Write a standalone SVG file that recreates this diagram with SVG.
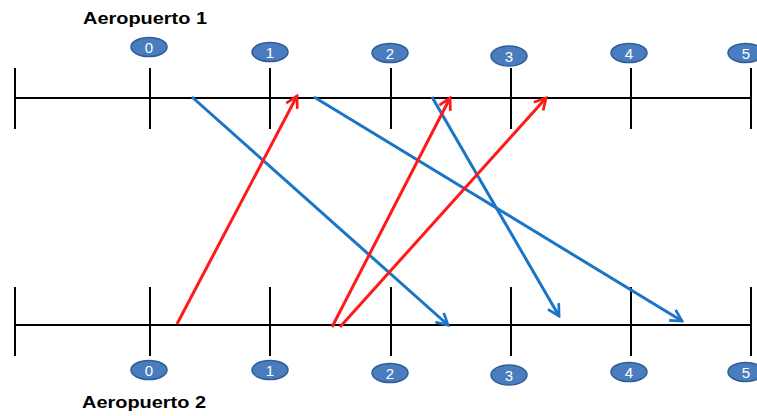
<svg xmlns="http://www.w3.org/2000/svg" width="757" height="416" viewBox="0 0 757 416">
<style>
.axis{stroke:#000;stroke-width:2;fill:none}
.badge ellipse{fill:#4a7dbd;stroke:#2f5d99;stroke-width:1.5}
.badge text{fill:#fff;font-family:"Liberation Sans",Arial,sans-serif;font-size:15px;text-anchor:middle}
.title{font-family:"Liberation Sans",Arial,sans-serif;font-weight:bold;font-size:17px;fill:#000}
.blue{stroke:#1a75c6;stroke-width:3;fill:none;marker-end:url(#ab)}
.red{stroke:#ff1a1a;stroke-width:3;fill:none;marker-end:url(#ar)}
</style>
<defs>
<marker id="ab" viewBox="0 0 12 12" refX="10" refY="6" markerWidth="5" markerHeight="5" markerUnits="strokeWidth" orient="auto">
<path d="M1,1 L10,6 L1,11" fill="none" stroke="#1a75c6" stroke-width="2.2"/>
</marker>
<marker id="ar" viewBox="0 0 12 12" refX="10" refY="6" markerWidth="5" markerHeight="5" markerUnits="strokeWidth" orient="auto">
<path d="M1,1 L10,6 L1,11" fill="none" stroke="#ff1a1a" stroke-width="2.2"/>
</marker>
</defs>
<g id="axis1" class="axis">
<line x1="15" y1="98" x2="752" y2="98"/>
<line x1="15" y1="68" x2="15" y2="129"/>
<line x1="150" y1="68" x2="150" y2="129"/>
<line x1="270" y1="68" x2="270" y2="129"/>
<line x1="391" y1="68" x2="391" y2="129"/>
<line x1="511" y1="68" x2="511" y2="129"/>
<line x1="631" y1="68" x2="631" y2="129"/>
<line x1="751" y1="68" x2="751" y2="129"/>
</g>
<g id="axis2" class="axis">
<line x1="15" y1="325" x2="752" y2="325"/>
<line x1="15" y1="287" x2="15" y2="356"/>
<line x1="150" y1="287" x2="150" y2="356"/>
<line x1="270" y1="287" x2="270" y2="356"/>
<line x1="391" y1="287" x2="391" y2="356"/>
<line x1="511" y1="287" x2="511" y2="356"/>
<line x1="631" y1="287" x2="631" y2="356"/>
<line x1="751" y1="287" x2="751" y2="356"/>
</g>
<text id="label1" class="title" x="83" y="24" textLength="124" lengthAdjust="spacingAndGlyphs">Aeropuerto 1</text>
<text id="label2" class="title" x="82" y="408" textLength="124" lengthAdjust="spacingAndGlyphs">Aeropuerto 2</text>
<g id="t0" class="badge"><ellipse cx="149" cy="47" rx="18" ry="9.5"/><text x="149" y="52.5">0</text></g>
<g id="t1" class="badge"><ellipse cx="270" cy="52" rx="18" ry="9.5"/><text x="270" y="57.5">1</text></g>
<g id="t2" class="badge"><ellipse cx="390" cy="53" rx="18" ry="9.5"/><text x="390" y="58.5">2</text></g>
<g id="t3" class="badge"><ellipse cx="509" cy="56" rx="18" ry="10"/><text x="509" y="61.5">3</text></g>
<g id="t4" class="badge"><ellipse cx="629" cy="53" rx="18" ry="9.5"/><text x="629" y="58.5">4</text></g>
<g id="t5" class="badge"><ellipse cx="746" cy="53" rx="18" ry="9.5"/><text x="746" y="58.5">5</text></g>
<g id="b0" class="badge"><ellipse cx="149" cy="370" rx="18" ry="9.5"/><text x="149" y="375.5">0</text></g>
<g id="b1" class="badge"><ellipse cx="270" cy="370" rx="18" ry="9.5"/><text x="270" y="375.5">1</text></g>
<g id="b2" class="badge"><ellipse cx="390" cy="373" rx="18" ry="9.5"/><text x="390" y="378.5">2</text></g>
<g id="b3" class="badge"><ellipse cx="509" cy="375" rx="18" ry="10"/><text x="509" y="380.5">3</text></g>
<g id="b4" class="badge"><ellipse cx="629" cy="372" rx="18" ry="9.5"/><text x="629" y="377.5">4</text></g>
<g id="b5" class="badge"><ellipse cx="746" cy="372" rx="18" ry="9.5"/><text x="746" y="377.5">5</text></g>
<g id="connectors">
<line class="blue" x1="192" y1="97" x2="448" y2="325"/>
<line class="blue" x1="314" y1="97" x2="682" y2="321"/>
<line class="blue" x1="432" y1="97" x2="559" y2="316"/>
<line class="red" x1="177" y1="324" x2="297" y2="96"/>
<line class="red" x1="332" y1="327" x2="450" y2="98"/>
<line class="red" x1="340" y1="327" x2="546" y2="98"/>
</g>
</svg>
